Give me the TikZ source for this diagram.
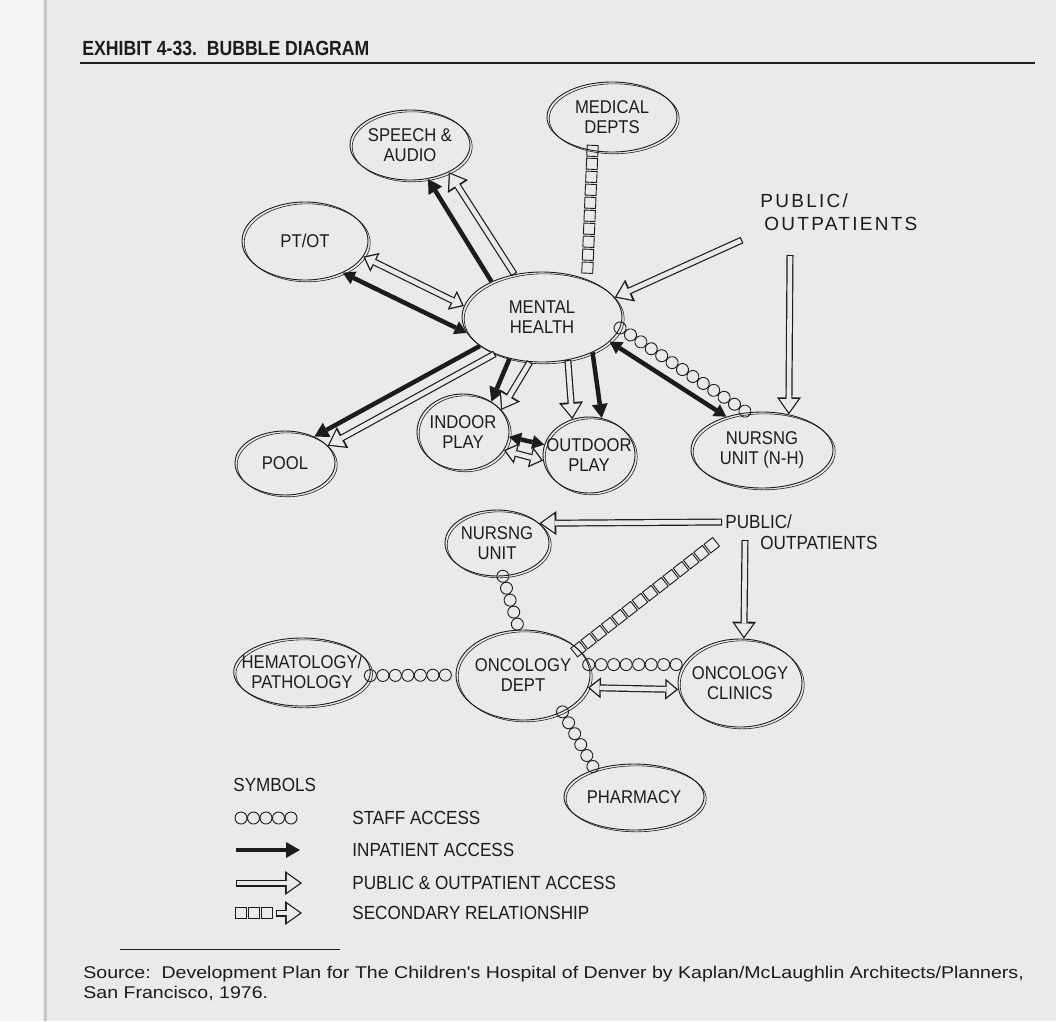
\documentclass[tikz,border=0pt]{standalone}
\usepackage{fontspec}
\setmainfont{Liberation Sans}
\newfontfamily\handfont[FakeStretch=0.9]{Liberation Sans}
\newfontfamily\widefont[LetterSpace=12]{Liberation Sans}
\newfontfamily\titlefont[FakeStretch=0.86]{Liberation Sans}
\newfontfamily\srcfont[FakeStretch=1.15]{Liberation Sans}
\newcommand{\handlbl}{\handfont\fontsize{18.5}{20}\selectfont}
\newcommand{\legendlbl}{\handfont\fontsize{19}{21}\selectfont}
\usepackage{tikz}
\usetikzlibrary{shapes.geometric,arrows.meta,decorations.markings,calc}
\definecolor{paper}{RGB}{234,234,234}
\definecolor{ink}{RGB}{28,28,28}

\begin{document}
\begin{tikzpicture}[x=1pt, y=-1pt, thick]
% Define styles for the bubbles and the four kinds of links
\tikzstyle{bubble} = [ellipse, draw=ink, line width=0.9pt, align=center, inner xsep=-12pt, inner ysep=-8pt, text=ink, font=\handlbl, preaction={draw=ink, line width=0.6pt, transform canvas={shift={(2.2pt,-1.8pt)}}}]
\tikzstyle{handtext} = [align=left, inner sep=0pt, text=ink, font=\legendlbl]
\tikzstyle{inpat} = [draw=ink, line width=4.5pt, -{Triangle[length=14pt,width=16pt,line width=0pt]}]
\tikzstyle{inpatboth} = [draw=ink, line width=4.5pt, {Triangle[length=12pt,width=14pt,line width=0pt]}-{Triangle[length=12pt,width=14pt,line width=0pt]}]
\tikzstyle{pubarr} = [draw=ink, line width=7pt, -{Triangle[length=17pt,width=24pt,line width=0pt]}, postaction={draw=paper, line width=4.6pt, -{Triangle[length=13pt,width=18.5pt,line width=0pt]}, shorten >=2.2pt, shorten <=1.2pt}]
\tikzstyle{pubboth} = [draw=ink, line width=7pt, {Triangle[length=13pt,width=21pt,line width=0pt]}-{Triangle[length=13pt,width=21pt,line width=0pt]}, postaction={draw=paper, line width=4.6pt, {Triangle[length=9.5pt,width=15.5pt,line width=0pt]}-{Triangle[length=9.5pt,width=15.5pt,line width=0pt]}, shorten >=2.2pt, shorten <=2.2pt}]
\tikzstyle{staff} = [postaction={decorate, decoration={markings, mark=between positions 0 and 1 step 12.5pt with {\draw[ink, line width=0.9pt] (0pt,0pt) circle (6pt);}}}]
\tikzstyle{second} = [postaction={decorate, decoration={markings, mark=between positions 0 and 1 step 13pt with {\draw[ink, line width=0.9pt] (-5.5pt,-5.5pt) rectangle (5.5pt,5.5pt);}}}]

% Paper, title and source
\fill[paper] (0,0) rectangle (1056,1021);
\useasboundingbox (0,0) rectangle (1056,1021);
\fill[paper!50!white] (0,0) rectangle (43,1021);
\draw[black!22, line width=3pt] (45,0) -- (45,1021);
\node[anchor=west, inner sep=0pt, text=ink, font=\titlefont\bfseries\fontsize{20.5}{22}\selectfont] (title) at (82,48) {EXHIBIT 4-33.\ \ BUBBLE DIAGRAM};
\draw[ink, line width=1.2pt] (80,63) -- (1035,63);
\draw[ink, line width=0.8pt] (120,949) -- (340,949);
\node[anchor=north west, align=left, inner sep=0pt, text=ink, font=\srcfont\fontsize{17}{20}\selectfont] (src) at (83,966) {Source:\ \ Development Plan for The Children's Hospital of Denver by Kaplan/McLaughlin Architects/Planners,\\San Francisco, 1976.};

% Place bubbles, mental health group
\node[bubble, minimum width=160pt, minimum height=90pt] (mh) at (542,317) {MENTAL\\HEALTH};
\node[bubble, minimum width=130pt, minimum height=70pt] (med) at (612,117) {MEDICAL\\DEPTS};
\node[bubble, minimum width=120pt, minimum height=70pt] (speech) at (410,145) {SPEECH \&\\AUDIO};
\node[bubble, minimum width=126pt, minimum height=78pt] (ptot) at (305,241) {PT/OT};
\node[bubble, minimum width=100pt, minimum height=64pt] (pool) at (285,463) {POOL};
\node[bubble, minimum width=92pt, minimum height=76pt] (indoor) at (463,432) {INDOOR\\PLAY};
\node[bubble, minimum width=92pt, minimum height=76pt] (outdoor) at (589,455) {OUTDOOR\\PLAY};
\node[bubble, minimum width=142pt, minimum height=76pt] (nursnh) at (762,450) {NURSNG\\UNIT (N-H)};
\node[handtext, anchor=north west, font=\widefont\fontsize{19}{23}\selectfont] (pubtop) at (760,193) {PUBLIC/\\\hspace*{4pt}OUTPATIENTS};

% Place bubbles, oncology group
\node[bubble, minimum width=104pt, minimum height=66pt] (nurs) at (497,543) {NURSNG\\UNIT};
\node[bubble, minimum width=136pt, minimum height=68pt] (hema) at (302,672) {HEMATOLOGY/\\PATHOLOGY};
\node[bubble, minimum width=134pt, minimum height=90pt] (onc) at (523,675) {ONCOLOGY\\DEPT};
\node[bubble, minimum width=124pt, minimum height=88pt] (clin) at (740,683) {ONCOLOGY\\CLINICS};
\node[bubble, minimum width=140pt, minimum height=66pt] (pharm) at (634,797) {PHARMACY};
\node[handtext, anchor=north west] (pubbot) at (725,514) {PUBLIC/\\\hspace*{35pt}OUTPATIENTS};

% Free ends near the public labels
\coordinate (pubA) at (742,240);
\coordinate (pubB) at (790,255);
\coordinate (pubC) at (722,522);
\coordinate (pubD) at (745,540);
\coordinate (secB) at (712,545);

% Connect mental health
\path[second] (med.-120) -- (mh.40);
\draw[inpat] (mh.145) -- (speech.-62);
\draw[pubarr] (mh.123) -- (speech.-35);
\draw[inpatboth] (ptot.-40) -- (mh.192);
\draw[pubboth] (ptot.-15) -- (mh.172);
\draw[pubarr] (pubA) -- (mh.15);
\draw[pubarr] (pubB) -- (nursnh.53);
\draw[inpatboth] (mh.-20) -- (nursnh.137);
\path[staff] (mh.-8) -- (nursnh.112);
\draw[inpat] (mh.205) -- (pool.42);
\draw[pubarr] (mh.218) -- (pool.22);
\draw[inpat] (mh.232) -- (indoor.47);
\draw[pubarr] (mh.255) -- (indoor.30);
\draw[pubarr] (mh.-59) -- (outdoor.115);
\draw[inpat] (mh.-35) -- (outdoor.71);
\draw[inpatboth] (indoor.-6) -- (outdoor.167);
\draw[pubboth] (indoor.-24) -- (outdoor.187);

% Connect oncology
\draw[pubarr] (pubC) -- (nurs.25);
\draw[pubarr] (pubD) -- (clin.85);
\path[second] (onc.25) -- (secB);
\path[staff] (nurs.-80) -- (onc.95);
\path[staff] (hema.-3) -- (onc.180);
\path[staff] (onc.9) -- (clin.162);
\draw[pubboth] (onc.-11) -- (clin.186);
\path[staff] (onc.-43) -- (pharm.145);

% Symbols
\node[handtext, anchor=west] (symb) at (233,785) {SYMBOLS};
\coordinate (lg1a) at (241,818); \coordinate (lg1b) at (296,818);
\coordinate (lg2a) at (236,850); \coordinate (lg2b) at (300,850);
\coordinate (lg3a) at (236,883); \coordinate (lg3b) at (302,883);
\coordinate (lg4a) at (241,913); \coordinate (lg4b) at (276,913); \coordinate (lg4c) at (302,913);
\path[staff] (lg1a) -- (lg1b);
\draw[inpat] (lg2a) -- (lg2b);
\draw[pubarr] (lg3a) -- (lg3b);
\path[second] (lg4a) -- (lg4b);
\draw[pubarr] (lg4b) -- (lg4c);
\node[handtext, anchor=west] (t1) at (352,818) {STAFF ACCESS};
\node[handtext, anchor=west] (t2) at (352,850) {INPATIENT ACCESS};
\node[handtext, anchor=west] (t3) at (352,883) {PUBLIC \& OUTPATIENT ACCESS};
\node[handtext, anchor=west] (t4) at (352,913) {SECONDARY RELATIONSHIP};
\end{tikzpicture}
\end{document}
